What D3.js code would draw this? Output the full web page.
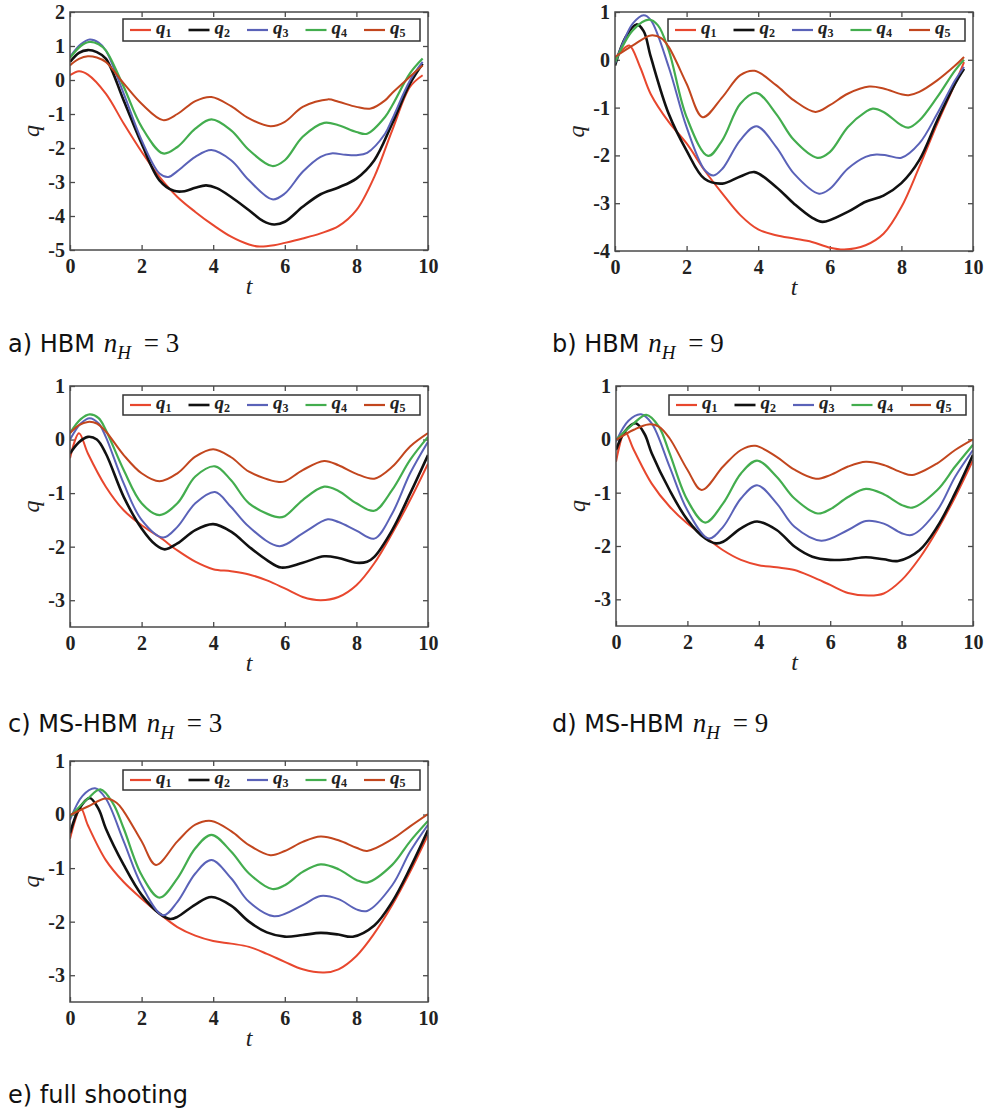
<!DOCTYPE html>
<html><head><meta charset="utf-8">
<script src="https://cdn.jsdelivr.net/npm/d3@7/dist/d3.min.js"></script>
<style>body{margin:0;background:#fff}</style>
</head><body>
<svg id="chart" width="987" height="1115"></svg>
<script>
// ---------- data ----------
const seriesIndex = ["1","2","3","4","5"];
const seriesColors = ["#e8472e","#111111","#5a62b8","#43ad4e","#c2461e"];
const seriesWidths = [2, 2.6, 2, 2.2, 2];
const xTicks = [0,2,4,6,8,10];
const yTicksA = [-5,-4,-3,-2,-1,0,1,2];
const yTicksB = [-4,-3,-2,-1,0,1];
const yTicksCDE = [-3,-2,-1,0,1];
const captionLabels = ["a) HBM","b) HBM","c) MS-HBM","d) MS-HBM","e) full shooting"];
const captionNH = ["3","9","3","9",null];

// panel a) HBM nH=3
const a_q1 = [[0,0.14],[0.25,0.26],[0.5,0.16],[1,-0.4],[1.5,-1.28],[2,-2.11],[2.5,-2.85],[3,-3.44],[3.5,-3.88],[4,-4.27],[4.5,-4.61],[5,-4.84],[5.3,-4.9],[5.7,-4.86],[6,-4.79],[6.5,-4.66],[7,-4.51],[7.5,-4.3],[8,-3.83],[8.5,-2.85],[9,-1.48],[9.5,-0.2],[9.85,0.14]];
const a_q2 = [[0,0.53],[0.25,0.8],[0.5,0.88],[0.75,0.82],[1,0.63],[1.5,-0.6],[2,-1.87],[2.5,-2.95],[2.9,-3.26],[3.2,-3.27],[3.5,-3.17],[3.8,-3.1],[4.1,-3.18],[4.5,-3.44],[5,-3.83],[5.4,-4.15],[5.7,-4.25],[6,-4.17],[6.5,-3.73],[7,-3.36],[7.5,-3.16],[8,-2.9],[8.5,-2.36],[9,-1.28],[9.5,-0.1],[9.85,0.48]];
const a_q3 = [[0,0.68],[0.3,1.05],[0.55,1.19],[0.8,1.1],[1,0.87],[1.5,-0.4],[2,-1.77],[2.5,-2.75],[2.75,-2.85],[3,-2.68],[3.5,-2.26],[3.95,-2.06],[4.5,-2.36],[5,-2.95],[5.65,-3.51],[6,-3.34],[6.5,-2.7],[7,-2.26],[7.3,-2.16],[7.7,-2.2],[8,-2.21],[8.3,-2.14],[8.8,-1.58],[9,-1.15],[9.5,-0.01],[9.85,0.53]];
const a_q4 = [[0,0.65],[0.3,1.0],[0.55,1.12],[0.8,1.05],[1,0.87],[1.5,-0.2],[2,-1.38],[2.6,-2.16],[3,-1.97],[3.5,-1.43],[3.95,-1.16],[4.5,-1.48],[5,-2.06],[5.65,-2.53],[6,-2.36],[6.5,-1.67],[7.1,-1.26],[7.5,-1.33],[8,-1.53],[8.3,-1.58],[8.8,-1.09],[9,-0.75],[9.5,0.2],[9.85,0.63]];
const a_q5 = [[0,0.43],[0.25,0.62],[0.5,0.7],[0.75,0.66],[1,0.53],[1.5,-0.1],[2,-0.7],[2.6,-1.18],[3,-1.0],[3.5,-0.62],[3.95,-0.5],[4.5,-0.77],[5,-1.13],[5.6,-1.36],[6,-1.23],[6.5,-0.79],[7.2,-0.57],[7.5,-0.64],[8,-0.79],[8.4,-0.84],[8.8,-0.6],[9,-0.38],[9.5,0.1],[9.85,0.43]];

// panel b) HBM nH=9
const b_q1 = [[0,0.02],[0.2,0.2],[0.4,0.3],[0.7,-0.15],[1,-0.72],[1.5,-1.3],[2,-1.75],[2.5,-2.31],[3,-2.8],[3.5,-3.25],[4,-3.55],[4.5,-3.67],[5,-3.74],[5.5,-3.81],[6,-3.93],[6.4,-3.97],[7,-3.88],[7.5,-3.64],[8,-3.08],[8.5,-2.24],[9,-1.34],[9.5,-0.5],[9.75,-0.05]];
const b_q2 = [[0,-0.12],[0.3,0.48],[0.6,0.74],[0.8,0.6],[1,0.06],[1.5,-1.13],[2,-1.9],[2.5,-2.49],[3,-2.59],[3.5,-2.44],[3.9,-2.35],[4.5,-2.66],[5,-3.01],[5.5,-3.3],[5.8,-3.39],[6.5,-3.18],[7,-2.97],[7.5,-2.84],[8,-2.58],[8.5,-2.1],[9,-1.27],[9.5,-0.5],[9.75,-0.19]];
const b_q3 = [[0,-0.08],[0.25,0.4],[0.5,0.76],[0.8,0.93],[1,0.83],[1.5,-0.15],[2,-1.41],[2.5,-2.3],[2.75,-2.42],[3,-2.28],[3.5,-1.68],[3.95,-1.39],[4.5,-1.82],[5,-2.38],[5.7,-2.8],[6,-2.7],[6.5,-2.28],[7,-2.03],[7.3,-1.98],[7.6,-2.0],[8,-2.05],[8.5,-1.75],[9,-1.13],[9.5,-0.43],[9.75,-0.15]];
const b_q4 = [[0,-0.05],[0.5,0.62],[0.95,0.84],[1.2,0.72],[1.5,0.2],[2,-1.2],[2.6,-2.01],[3,-1.68],[3.5,-0.92],[3.95,-0.69],[4.5,-1.13],[5,-1.68],[5.65,-2.05],[6,-1.93],[6.5,-1.41],[7,-1.09],[7.2,-1.02],[7.5,-1.09],[8,-1.37],[8.2,-1.42],[8.5,-1.27],[9,-0.78],[9.5,-0.22],[9.75,0.0]];
const b_q5 = [[0,0.06],[0.5,0.3],[1.0,0.51],[1.3,0.45],[1.5,0.27],[2,-0.5],[2.45,-1.2],[3,-0.78],[3.5,-0.32],[3.9,-0.23],[4.5,-0.53],[5,-0.85],[5.6,-1.09],[6,-0.95],[6.5,-0.71],[7.1,-0.56],[7.5,-0.6],[8,-0.72],[8.2,-0.74],[8.5,-0.67],[9,-0.43],[9.5,-0.12],[9.75,0.06]];

// panel c) MS-HBM nH=3
const c_q1 = [[0,-0.35],[0.25,0.12],[0.5,-0.26],[1,-0.88],[1.5,-1.32],[2,-1.6],[2.5,-1.82],[3,-2.07],[3.5,-2.28],[4,-2.42],[4.5,-2.46],[5,-2.52],[5.5,-2.63],[6,-2.78],[6.5,-2.94],[7,-3.0],[7.5,-2.94],[8,-2.72],[8.5,-2.31],[9,-1.75],[9.5,-1.13],[10,-0.45]];
const c_q2 = [[0,-0.26],[0.25,-0.05],[0.5,0.05],[0.75,0.0],[1,-0.26],[1.5,-1.07],[2,-1.66],[2.4,-1.97],[2.65,-2.05],[3,-1.94],[3.5,-1.69],[4,-1.58],[4.5,-1.72],[5,-2.0],[5.5,-2.25],[5.9,-2.39],[6.5,-2.3],[7.1,-2.18],[7.5,-2.21],[8,-2.3],[8.3,-2.28],[8.5,-2.19],[9,-1.69],[9.5,-1.01],[10,-0.29]];
const c_q3 = [[0,0.0],[0.3,0.3],[0.55,0.4],[0.8,0.3],[1,0.05],[1.5,-0.82],[2,-1.5],[2.6,-1.83],[3,-1.63],[3.5,-1.19],[4.05,-0.98],[4.5,-1.26],[5,-1.63],[5.85,-1.99],[6.5,-1.75],[7.2,-1.49],[7.5,-1.54],[8,-1.7],[8.5,-1.85],[9,-1.38],[9.5,-0.63],[10,-0.04]];
const c_q4 = [[0,0.12],[0.3,0.38],[0.55,0.47],[0.8,0.4],[1,0.18],[1.5,-0.57],[2,-1.19],[2.5,-1.41],[3,-1.19],[3.5,-0.69],[4.05,-0.5],[4.5,-0.76],[5,-1.19],[5.8,-1.45],[6,-1.43],[6.5,-1.13],[7.1,-0.88],[7.5,-0.96],[8,-1.19],[8.5,-1.33],[9,-0.94],[9.5,-0.38],[10,0.05]];
const c_q5 = [[0,0.12],[0.25,0.27],[0.5,0.33],[0.75,0.3],[1,0.15],[1.5,-0.29],[2,-0.63],[2.5,-0.78],[3,-0.63],[3.5,-0.32],[4,-0.18],[4.5,-0.33],[5,-0.6],[5.8,-0.79],[6,-0.78],[6.5,-0.57],[7.1,-0.4],[7.5,-0.48],[8,-0.64],[8.5,-0.73],[9,-0.51],[9.5,-0.13],[10,0.12]];

// panel d) MS-HBM nH=9
const d_q1 = [[0,-0.42],[0.25,0.14],[0.5,-0.2],[1,-0.83],[1.5,-1.26],[2,-1.58],[2.5,-1.83],[3,-2.08],[3.5,-2.26],[4,-2.36],[4.5,-2.4],[5,-2.45],[5.5,-2.58],[6,-2.73],[6.5,-2.88],[7.1,-2.93],[7.5,-2.89],[8,-2.64],[8.5,-2.23],[9,-1.7],[9.5,-1.08],[10,-0.39]];
const d_q2 = [[0,-0.2],[0.25,0.15],[0.55,0.3],[0.8,0.1],[1,-0.26],[1.5,-0.95],[2,-1.51],[2.5,-1.86],[2.8,-1.95],[3,-1.92],[3.5,-1.67],[3.95,-1.54],[4.5,-1.7],[5,-2.01],[5.5,-2.2],[6,-2.26],[6.5,-2.25],[7,-2.21],[7.5,-2.25],[7.9,-2.28],[8.5,-2.08],[9,-1.64],[9.5,-1.01],[10,-0.29]];
const d_q3 = [[0,-0.04],[0.35,0.35],[0.7,0.47],[1,0.3],[1.5,-0.51],[2,-1.33],[2.6,-1.86],[3,-1.64],[3.5,-1.11],[3.95,-0.86],[4.5,-1.2],[5,-1.64],[5.75,-1.9],[6.5,-1.7],[7,-1.53],[7.5,-1.58],[8,-1.76],[8.3,-1.79],[9,-1.33],[9.5,-0.7],[10,-0.2]];
const d_q4 = [[0,-0.01],[0.5,0.3],[0.85,0.46],[1.2,0.24],[1.5,-0.26],[2,-1.14],[2.5,-1.56],[3,-1.2],[3.5,-0.64],[3.95,-0.4],[4.5,-0.7],[5,-1.11],[5.65,-1.39],[6,-1.31],[6.5,-1.08],[7,-0.93],[7.5,-1.03],[8,-1.23],[8.3,-1.28],[9,-0.95],[9.5,-0.51],[10,-0.1]];
const d_q5 = [[0,-0.01],[0.5,0.18],[0.9,0.28],[1.2,0.24],[1.5,0.02],[2,-0.57],[2.4,-0.95],[3,-0.51],[3.5,-0.2],[3.9,-0.12],[4.5,-0.33],[5,-0.57],[5.6,-0.74],[6,-0.67],[6.5,-0.51],[7,-0.42],[7.5,-0.48],[8,-0.62],[8.3,-0.67],[9,-0.45],[9.5,-0.2],[10,0.0]];

// panel e) full shooting
const e_q1 = [[0,-0.45],[0.3,0.12],[0.5,-0.2],[1,-0.85],[1.5,-1.26],[2,-1.57],[2.5,-1.85],[3,-2.1],[3.5,-2.26],[4,-2.36],[4.5,-2.41],[5,-2.47],[5.5,-2.6],[6,-2.75],[6.5,-2.89],[7.1,-2.95],[7.5,-2.89],[8,-2.64],[8.5,-2.22],[9,-1.69],[9.5,-1.07],[10,-0.38]];
const e_q2 = [[0,-0.35],[0.25,0.1],[0.55,0.31],[0.8,0.1],[1,-0.26],[1.5,-0.94],[2,-1.5],[2.5,-1.85],[2.8,-1.95],[3,-1.91],[3.5,-1.68],[3.95,-1.54],[4.5,-1.7],[5,-2.0],[5.5,-2.2],[6,-2.28],[6.5,-2.25],[7,-2.21],[7.5,-2.24],[7.9,-2.28],[8.5,-2.07],[9,-1.63],[9.5,-1.0],[10,-0.29]];
const e_q3 = [[0,-0.1],[0.35,0.35],[0.7,0.49],[1,0.3],[1.5,-0.5],[2,-1.32],[2.6,-1.88],[3,-1.63],[3.5,-1.1],[3.95,-0.85],[4.5,-1.19],[5,-1.63],[5.7,-1.9],[6.5,-1.69],[7,-1.52],[7.5,-1.58],[8,-1.77],[8.3,-1.8],[9,-1.32],[9.5,-0.69],[10,-0.19]];
const e_q4 = [[0,-0.04],[0.5,0.3],[0.85,0.47],[1.2,0.21],[1.5,-0.26],[2,-1.13],[2.5,-1.55],[3,-1.19],[3.5,-0.63],[3.95,-0.38],[4.5,-0.69],[5,-1.1],[5.65,-1.39],[6,-1.32],[6.5,-1.07],[7,-0.93],[7.5,-1.02],[8,-1.22],[8.3,-1.27],[9,-0.94],[9.5,-0.5],[10,-0.12]];
const e_q5 = [[0,-0.01],[0.5,0.15],[1.0,0.3],[1.3,0.22],[1.5,0.06],[2,-0.5],[2.4,-0.94],[3,-0.5],[3.5,-0.19],[3.95,-0.12],[4.5,-0.31],[5,-0.57],[5.6,-0.76],[6,-0.68],[6.5,-0.51],[7,-0.41],[7.5,-0.48],[8,-0.62],[8.3,-0.68],[9,-0.46],[9.5,-0.22],[10,0.01]];

// ---------- layout ----------
const panels = [
  {left:70,  top:12,  w:358, h:238, dom:[-5,2],   ticks:yTicksA,   series:[a_q1,a_q2,a_q3,a_q4,a_q5], cx:8,   cy:352},
  {left:615, top:12,  w:358, h:239, dom:[-4,1],   ticks:yTicksB,   series:[b_q1,b_q2,b_q3,b_q4,b_q5], cx:552, cy:352},
  {left:70,  top:386, w:358, h:241, dom:[-3.5,1], ticks:yTicksCDE, series:[c_q1,c_q2,c_q3,c_q4,c_q5], cx:8,   cy:732},
  {left:616, top:386, w:357, h:240, dom:[-3.5,1], ticks:yTicksCDE, series:[d_q1,d_q2,d_q3,d_q4,d_q5], cx:552, cy:732},
  {left:70,  top:761, w:358, h:241, dom:[-3.5,1], ticks:yTicksCDE, series:[e_q1,e_q2,e_q3,e_q4,e_q5], cx:8,   cy:1103}
];

const svg = d3.select("#chart");
const frameColor = "#4a4a4a";
const tickFont = "'Liberation Serif','Times New Roman',serif";
const fmt = d => String(d);

panels.forEach((p, pi) => {
  const g = svg.append("g").attr("transform", `translate(${p.left},${p.top})`);
  const x = d3.scaleLinear().domain([0,10]).range([0,p.w]);
  const y = d3.scaleLinear().domain(p.dom).range([p.h,0]);

  const clipId = "clip" + pi;
  g.append("clipPath").attr("id", clipId).append("rect")
    .attr("x",0).attr("y",0).attr("width",p.w).attr("height",p.h);

  // axes with inward ticks
  const styleAxis = (sel, labels) => {
    sel.select(".domain").remove();
    sel.selectAll(".tick line").attr("stroke", frameColor).attr("stroke-width", 1.3);
    if (!labels) sel.selectAll(".tick text").remove();
    else sel.selectAll(".tick text").attr("fill","#222")
      .style("font-family", tickFont).style("font-size","20px").style("font-weight","bold");
  };
  g.append("g").attr("transform",`translate(0,${p.h})`)
    .call(d3.axisBottom(x).tickValues(xTicks).tickFormat(fmt).tickSize(-5).tickPadding(9))
    .call(s => styleAxis(s, true));
  g.append("g")
    .call(d3.axisTop(x).tickValues(xTicks).tickSize(-5))
    .call(s => styleAxis(s, false));
  g.append("g")
    .call(d3.axisLeft(y).tickValues(p.ticks).tickFormat(fmt).tickSize(-5).tickPadding(5))
    .call(s => styleAxis(s, true));
  g.append("g").attr("transform",`translate(${p.w},0)`)
    .call(d3.axisRight(y).tickValues(p.ticks).tickSize(-5))
    .call(s => styleAxis(s, false));

  // lines
  const line = d3.line().x(d => x(d[0])).y(d => y(d[1])).curve(d3.curveCatmullRom.alpha(0.5));
  const lg = g.append("g").attr("clip-path", `url(#${clipId})`);
  [0,1,2,3,4].forEach(i => {
    lg.append("path").datum(p.series[i])
      .attr("fill","none")
      .attr("stroke", seriesColors[i])
      .attr("stroke-width", seriesWidths[i])
      .attr("stroke-linejoin","round")
      .attr("d", line);
  });

  // frame
  g.append("rect").attr("x",0).attr("y",0).attr("width",p.w).attr("height",p.h)
    .attr("fill","none").attr("stroke",frameColor).attr("stroke-width",1.5);

  // legend
  const leg = g.append("g").attr("transform",`translate(53,${pi<2?7:9})`);
  const legH = pi<2 ? 22 : 20;
  leg.append("rect").attr("width",297).attr("height",legH)
    .attr("fill","#fff").attr("stroke","#333").attr("stroke-width",1.5);
  seriesIndex.forEach((s,i) => {
    const ex = 7 + i*58.5;
    leg.append("line").attr("x1",ex).attr("x2",ex+21)
      .attr("y1",legH/2).attr("y2",legH/2)
      .attr("stroke",seriesColors[i]).attr("stroke-width", i===1?2.6:2.2);
    const t = leg.append("text").attr("x",ex+26).attr("y",legH/2+4)
      .style("font-family",tickFont).attr("fill","#222");
    t.append("tspan").text("q").style("font-style","italic").style("font-size","19px").style("font-weight","bold");
    t.append("tspan").text(s).attr("dy",3).style("font-size","12px").style("font-weight","bold");
  });

  // axis labels
  g.append("text").attr("x",p.w/2).attr("y",p.h+44).attr("text-anchor","middle")
    .style("font-family",tickFont).style("font-style","italic").style("font-size","24px")
    .attr("fill","#222").text("t");
  g.append("text").attr("transform",`translate(-31,${p.h/2}) rotate(-90)`).attr("text-anchor","middle")
    .style("font-family",tickFont).style("font-style","italic").style("font-size","24px")
    .attr("fill","#222").text("q");

  // caption
  const cap = svg.append("text").attr("x",p.cx).attr("y",p.cy).attr("fill","#111");
  cap.append("tspan").text(captionLabels[pi]).style("font-family","'DejaVu Sans',sans-serif").style("font-size","24px");
  if (captionNH[pi] !== null) {
    cap.append("tspan").text("\u00a0n").attr("dx",2).style("font-family",tickFont).style("font-style","italic").style("font-size","27px");
    cap.append("tspan").text("H").attr("dy",7).style("font-family",tickFont).style("font-style","italic").style("font-size","19px");
    cap.append("tspan").text("\u00a0=\u00a0" + captionNH[pi]).attr("dy",-7).attr("dx",6)
      .style("font-family",tickFont).style("font-size","27px");
  }
});
</script>
</body></html>
